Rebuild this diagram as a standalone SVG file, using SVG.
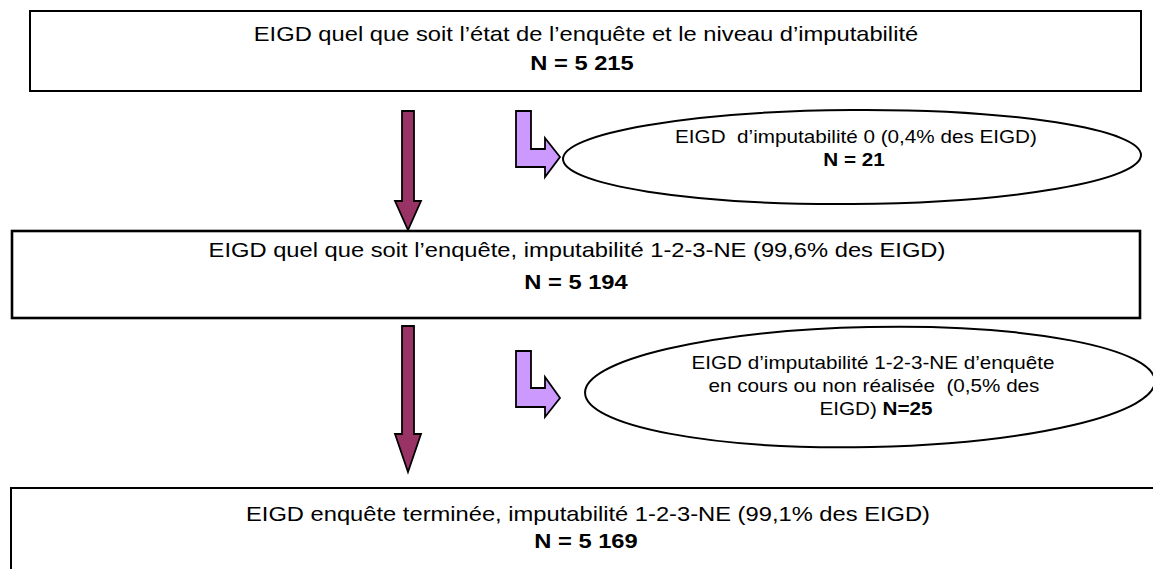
<svg xmlns="http://www.w3.org/2000/svg" width="1153" height="569" viewBox="0 0 1153 569">
<style>
  .box { fill: #ffffff; stroke: #000000; stroke-width: 2; }
  .thick { stroke-width: 2.6; }
  .ell { fill: #ffffff; stroke: #000000; stroke-width: 2; }
  .t { font-family: "Liberation Sans", Arial, sans-serif; fill: #000000; text-anchor: middle; }
  .tb { font-size: 21px; }
  .te { font-size: 18.3px; }
  .b { font-weight: bold; }
  .down { fill: #993366; stroke: #000000; stroke-width: 1.8; stroke-linejoin: miter; }
  .side { fill: #CC99FF; stroke: #000000; stroke-width: 1.8; stroke-linejoin: miter; }
</style>
<rect width="1153" height="569" fill="#ffffff"/>

<g id="connectors">
  <polygon class="down" points="402,111 414,111 414,201 421,201 408,230 395,201 402,201"/>
  <polygon class="down" points="402,326 414,326 414,434 421,434 408,472 395,434 402,434"/>
  <polygon class="side" points="516,111 531,111 531,149 545,149 545,138 560,157 545,177 545,167 516,167"/>
  <polygon class="side" points="516,351 531,351 531,388 545,388 545,377 560,398 545,417 545,407 516,407"/>
</g>

<g id="node-all">
  <rect class="box" x="30" y="11" width="1111" height="80"/>
  <text class="t tb" transform="translate(586,41) scale(1.13,1)">EIGD quel que soit l’état de l’enquête et le niveau d’imputabilité</text>
  <text class="t tb b" transform="translate(582,70) scale(1.13,1)">N = 5 215</text>
</g>

<g id="node-imput0">
  <ellipse class="ell" cx="852" cy="157" rx="289" ry="47" transform="rotate(-0.4 852 157)"/>
  <text class="t te" transform="translate(856,143) scale(1.13,1)" xml:space="preserve">EIGD  d’imputabilité 0 (0,4% des EIGD)</text>
  <text class="t te b" transform="translate(854,166) scale(1.13,1)">N = 21</text>
</g>

<g id="node-imput123">
  <rect class="box thick" x="12" y="231" width="1128" height="87"/>
  <text class="t tb" transform="translate(577,257) scale(1.13,1)">EIGD quel que soit l’enquête, imputabilité 1-2-3-NE (99,6% des EIGD)</text>
  <text class="t tb b" transform="translate(576,289) scale(1.13,1)">N = 5 194</text>
</g>

<g id="node-encours">
  <ellipse class="ell" cx="870" cy="387" rx="285" ry="60" transform="rotate(-1.2 870 387)"/>
  <text class="t te" transform="translate(873,369) scale(1.13,1)">EIGD d’imputabilité 1-2-3-NE d’enquête</text>
  <text class="t te" transform="translate(874,392) scale(1.13,1)" xml:space="preserve">en cours ou non réalisée  (0,5% des</text>
  <text class="t te" transform="translate(876,415) scale(1.13,1)">EIGD) <tspan class="b">N=25</tspan></text>
</g>

<g id="node-terminee">
  <rect class="box" x="11" y="488" width="1160" height="100"/>
  <text class="t tb" transform="translate(588,521) scale(1.13,1)">EIGD enquête terminée, imputabilité 1-2-3-NE (99,1% des EIGD)</text>
  <text class="t tb b" transform="translate(586,548) scale(1.13,1)">N = 5 169</text>
</g>
</svg>
